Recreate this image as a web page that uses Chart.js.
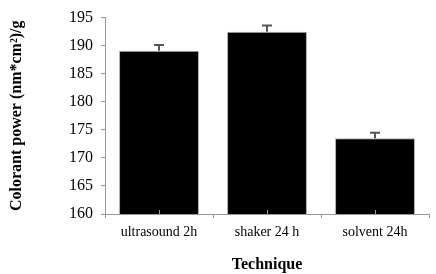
<!DOCTYPE html>
<html><head><meta charset="utf-8">
<script src="https://cdn.jsdelivr.net/npm/chart.js@4"></script>
<style>html,body{margin:0;padding:0;background:#fff}#w{width:436px;height:274px}</style>
</head><body><div id="w"><canvas id="c"></canvas></div>
<script>
const categories = ["ultrasound 2h", "shaker 24 h", "solvent 24h"];
const values = [189.1, 192.5, 173.5];
const errors = [1.0, 1.1, 1.0];
const yTicks = [160, 165, 170, 175, 180, 185, 190, 195];

const errorBars = {
  id: 'errorBars',
  afterDatasetsDraw(chart) {
    const ctx = chart.ctx, meta = chart.getDatasetMeta(0), y = chart.scales.y;
    ctx.save();
    ctx.strokeStyle = '#555';
    ctx.lineWidth = 2;
    meta.data.forEach((bar, i) => {
      const top = y.getPixelForValue(values[i] + errors[i]);
      const base = y.getPixelForValue(values[i]);
      ctx.beginPath();
      ctx.moveTo(bar.x, base); ctx.lineTo(bar.x, top);
      ctx.moveTo(bar.x - 5, top); ctx.lineTo(bar.x + 5, top);
      ctx.stroke();
    });
    const x = chart.scales.x, b = chart.chartArea.bottom;
    ctx.strokeStyle = '#999'; ctx.lineWidth = 1;
    categories.forEach((c, i) => {
      const px = Math.round(x.getPixelForValue(i)) + 0.5;
      ctx.beginPath(); ctx.moveTo(px, b); ctx.lineTo(px, b - 4); ctx.stroke();
    });
    ctx.restore();
  }
};

new Chart(document.getElementById('c'), {
  type: 'bar',
  data: { labels: categories, datasets: [{ data: values, backgroundColor: '#000', borderColor: '#aaa', borderWidth: 1, categoryPercentage: 0.74, barPercentage: 1 }] },
  options: {
    responsive: true, maintainAspectRatio: false, animation: false,
    layout: { padding: { left: 7, right: 7, top: 4, bottom: 0 } },
    plugins: { legend: { display: false }, tooltip: { enabled: false } },
    scales: {
      x: {
        offset: true,
        grid: { display: true, drawOnChartArea: false, offset: true, color: '#999', tickLength: 4 },
        border: { color: '#999', width: 1 },
        ticks: { color: '#000', font: { family: 'Liberation Serif', size: 14 }, padding: 6 },
        title: { display: true, text: 'Technique', color: '#000', font: { family: 'Liberation Serif', size: 16, weight: 'bold' }, padding: { top: 8, bottom: 0 } }
      },
      y: {
        min: 160, max: 195,
        afterBuildTicks(s) { s.ticks = yTicks.map(v => ({ value: v })); },
        afterFit(s) { s.width = 98; },
        grid: { display: true, drawOnChartArea: false, color: '#999', tickLength: 4 },
        border: { color: '#999', width: 1 },
        ticks: { color: '#000', font: { family: 'Liberation Serif', size: 16 }, padding: 8 },
        title: { display: true, text: 'Colorant power (nm*cm²)/g', color: '#000', font: { family: 'Liberation Serif', size: 16, weight: 'bold' }, padding: { top: 0, bottom: 0 } }
      }
    }
  },
  plugins: [errorBars]
});
</script></body></html>
